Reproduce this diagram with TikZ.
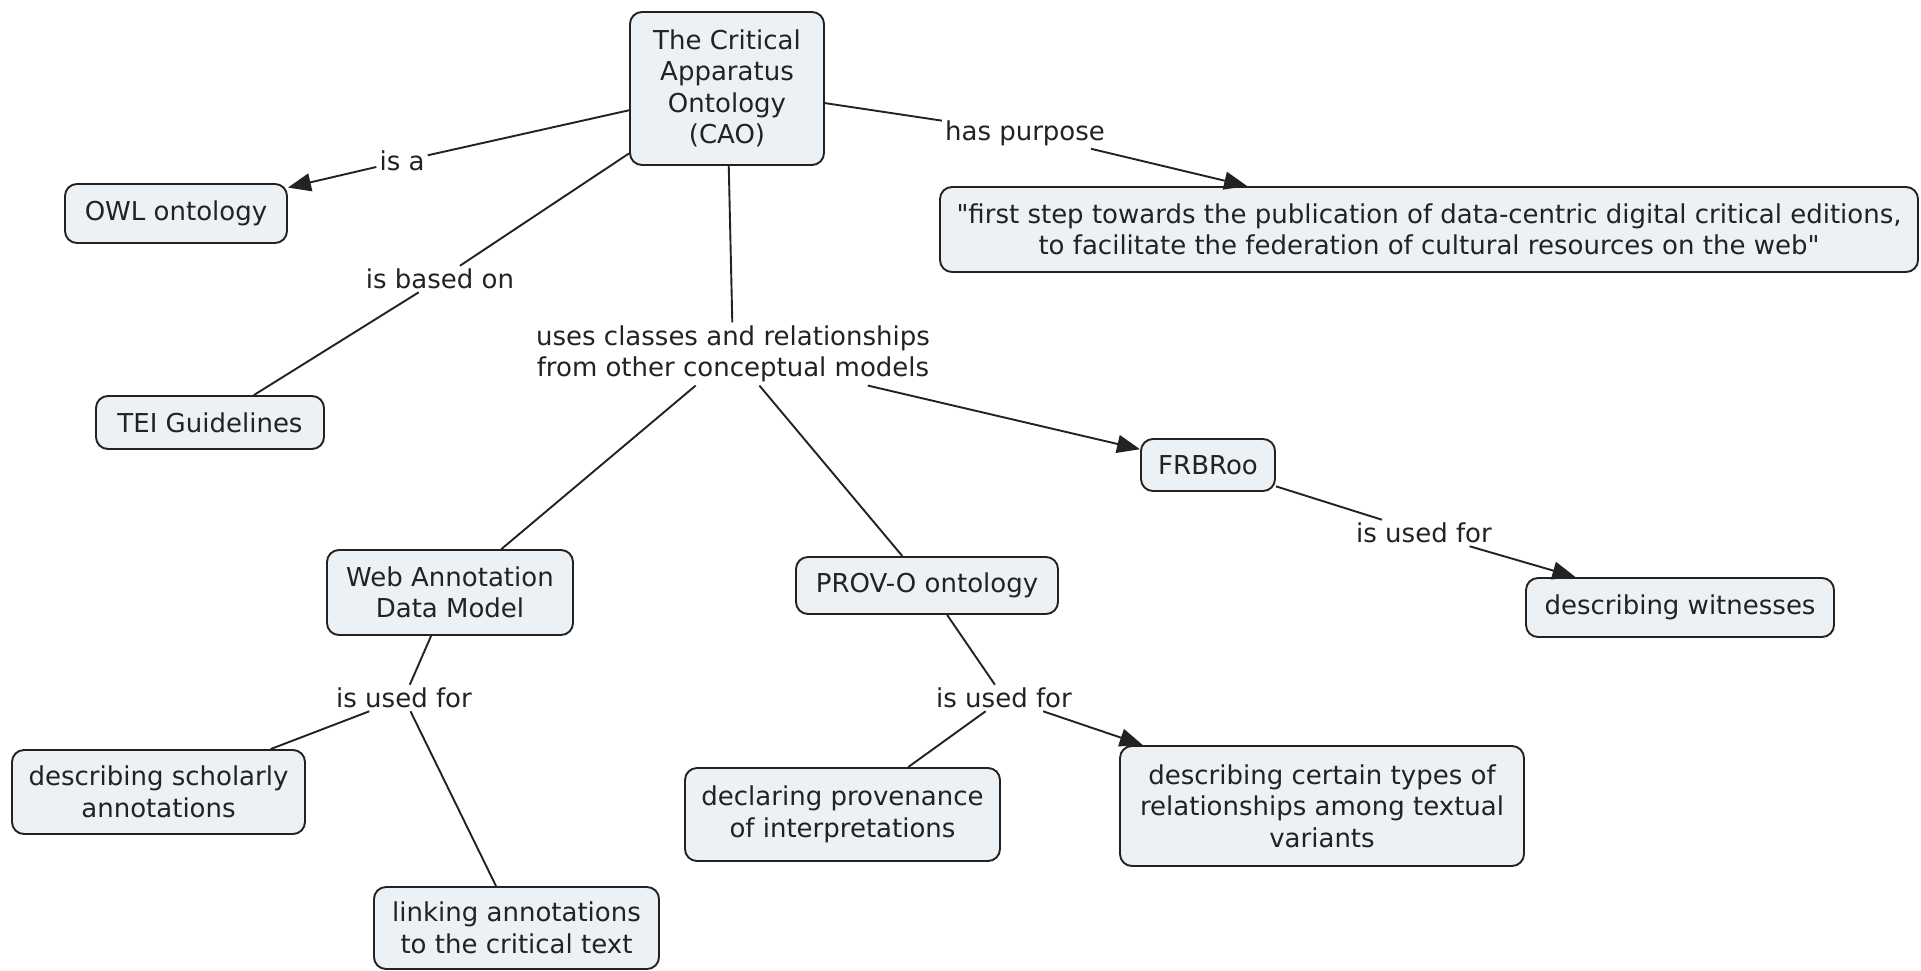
\documentclass[tikz,border=0pt]{standalone}
\usepackage{fontspec}
\setmainfont{DejaVu Sans}
\usetikzlibrary{arrows.meta}
\definecolor{boxfill}{RGB}{236,241,245}
\definecolor{ink}{RGB}{34,34,34}
\newcommand\fsz{\fontsize{26}{31.5}\selectfont}
\newcommand\dq{\XeTeXglyph\XeTeXglyphindex "quotedbl"\relax}
\begin{document}
\begin{tikzpicture}[x=1pt,y=-1pt,
  concept/.style={draw=ink, line width=1.9pt, fill=boxfill, rounded corners=12pt, align=center, inner sep=0pt, font=\fsz, text=ink},
  linklabel/.style={inner sep=3pt, align=center, font=\fsz, text=ink},
  conn/.style={draw=ink, line width=1.9pt},
  arr/.style={conn, -{Triangle[length=23pt,width=18pt]}}
]
\useasboundingbox[fill=white] (0,0) rectangle (1921,970);

% concepts
\node[concept, minimum width=194pt, minimum height=153pt] (cao) at (727,88.5) {The Critical\\Apparatus\\Ontology\\(CAO)};
\node[concept, minimum width=222pt, minimum height=59pt] (owl) at (176,213.5) {OWL ontology};
\node[concept, minimum width=228pt, minimum height=53pt] (tei) at (210,422.5) {TEI Guidelines};
\node[concept, minimum width=978pt, minimum height=85pt] (quote) at (1429,229.5) {\dq first step towards the publication of data-centric digital critical editions,\\to facilitate the federation of cultural resources on the web\dq};
\node[concept, minimum width=134pt, minimum height=52pt] (frbr) at (1208,465) {FRBRoo};
\node[concept, minimum width=308pt, minimum height=59pt] (wit) at (1680,607.5) {describing witnesses};
\node[concept, minimum width=246pt, minimum height=85pt] (wadm) at (450,592.5) {Web Annotation\\Data Model};
\node[concept, minimum width=262pt, minimum height=57pt] (prov) at (927,585.5) {PROV-O ontology};
\node[concept, minimum width=293pt, minimum height=84pt] (schol) at (158.5,792) {describing scholarly\\annotations};
\node[concept, minimum width=285pt, minimum height=82pt] (link) at (516.5,928) {linking annotations\\to the critical text};
\node[concept, minimum width=315pt, minimum height=93pt] (provn) at (842.5,814.5) {declaring provenance\\of interpretations};
\node[concept, minimum width=404pt, minimum height=120pt] (types) at (1322,806) {describing certain types of\\relationships among textual\\variants};

% linking phrases
\node[linklabel] (isa) at (402,161) {is a};
\node[linklabel] (purp) at (1025,133) {has purpose};
\node[linklabel] (based) at (440,279) {is based on};
\node[linklabel] (uses) at (733,354) {uses classes and relationships\\from other conceptual models};
\node[linklabel] (usedA) at (1424,533) {is used for};
\node[linklabel] (usedB) at (404,698) {is used for};
\node[linklabel] (usedC) at (1004,698) {is used for};

% connectors
\draw[conn] (cao) -- (isa);
\draw[arr] (isa) -- (owl);
\draw[conn] (cao) -- (purp);
\draw[arr] (purp) -- (quote);
\draw[conn] (cao) -- (based);
\draw[conn] (based) -- (tei);
\draw[conn] (cao) -- (uses);
\draw[arr] (uses) -- (frbr);
\draw[conn] (uses) -- (wadm);
\draw[conn] (uses) -- (prov);
\draw[conn] (frbr) -- (usedA);
\draw[arr] (usedA) -- (wit);
\draw[conn] (wadm) -- (usedB);
\draw[conn] (usedB) -- (schol);
\draw[conn] (usedB) -- (link);
\draw[conn] (prov) -- (usedC);
\draw[conn] (usedC) -- (provn);
\draw[arr] (usedC) -- (types);
\end{tikzpicture}
\end{document}
